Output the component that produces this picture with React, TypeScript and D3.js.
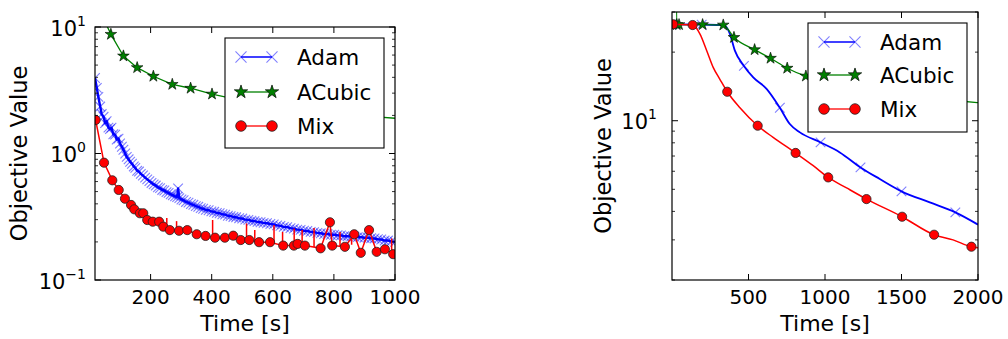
import React, { useRef, useEffect } from 'react';
import * as d3 from 'd3';

type Pt = [number, number];

// ---- left panel (time in s, objective value) ----
const adamLeft: Pt[] = [
  [18, 3.95], [24, 3.3], [29, 2.8], [35, 2.35], [40, 2.05], [46, 1.95], [51, 1.74], [56, 1.8], [62, 1.6],
  [67, 1.56], [72, 1.6], [78, 1.42], [84, 1.41], [89, 1.29], [95, 1.31], [100, 1.2], [106, 1.13], [111, 1.07],
  [117, 1.0], [122, 0.94], [128, 0.9], [133, 0.86], [139, 0.83], [145, 0.79], [150, 0.77], [156, 0.73],
  [162, 0.72], [168, 0.69], [175, 0.67], [182, 0.645], [189, 0.625], [196, 0.605], [203, 0.585], [210, 0.57],
  [217, 0.558], [224, 0.54], [231, 0.532], [238, 0.515], [245, 0.51], [252, 0.495], [259, 0.488], [266, 0.476],
  [273, 0.468], [280, 0.458], [287, 0.452], [290, 0.53], [294, 0.444], [301, 0.433], [308, 0.427], [316, 0.414],
  [324, 0.409], [332, 0.398], [340, 0.393], [348, 0.384], [356, 0.379], [364, 0.37], [372, 0.366], [381, 0.358],
  [390, 0.356], [399, 0.349], [408, 0.346], [417, 0.339], [426, 0.337], [435, 0.331], [444, 0.329], [453, 0.322],
  [462, 0.32], [471, 0.315], [480, 0.313], [490, 0.308], [500, 0.306], [510, 0.3], [520, 0.299], [530, 0.294],
  [540, 0.292], [550, 0.288], [560, 0.286], [570, 0.283], [581, 0.281], [592, 0.277], [603, 0.275], [614, 0.27],
  [625, 0.268], [636, 0.263], [647, 0.262], [658, 0.257], [669, 0.255], [680, 0.25], [691, 0.249], [702, 0.245],
  [713, 0.244], [724, 0.24], [735, 0.239], [746, 0.236], [757, 0.234], [768, 0.231], [779, 0.231], [790, 0.228],
  [801, 0.228], [812, 0.226], [823, 0.225], [834, 0.222], [845, 0.222], [856, 0.22], [867, 0.22], [878, 0.218],
  [889, 0.218], [900, 0.216], [911, 0.216], [922, 0.214], [933, 0.213], [944, 0.21], [955, 0.209], [966, 0.205],
  [977, 0.205], [988, 0.202], [1000, 0.2],
];

const acubicLeft: Pt[] = [
  [40, 12.5], [70, 8.75], [111, 5.9], [156, 4.77], [209, 4.08], [271, 3.52], [331, 3.28], [401, 2.95],
  [470, 2.72], [545, 2.52], [620, 2.36], [700, 2.22], [780, 2.11], [860, 2.02], [940, 1.95], [1000, 1.9],
];

const mixLeft: Pt[] = [
  [20, 1.84], [47.5, 0.846], [74.6, 0.614], [95.6, 0.515], [116, 0.439], [136, 0.392], [146.6, 0.362],
  [165, 0.337], [176, 0.337], [189, 0.298], [207, 0.289], [228, 0.289], [241.5, 0.264], [263, 0.248],
  [293, 0.245], [320, 0.248], [351, 0.23], [380, 0.223], [411, 0.216], [443, 0.216], [470.5, 0.224],
  [495, 0.207], [523, 0.207], [555, 0.199], [591, 0.199], [634, 0.187], [669, 0.187], [681, 0.193],
  [705, 0.187], [756.5, 0.178], [787, 0.286], [794.5, 0.187], [836, 0.183], [866.5, 0.23], [888, 0.164],
  [915, 0.248], [940, 0.167], [967, 0.175], [994, 0.16],
];

// thin vertical spikes in the Mix curve: [time, low, high]
const mixLeftSpikes: [number, number, number][] = [
  [253, 0.255, 0.309], [285, 0.246, 0.292], [403, 0.219, 0.298], [514, 0.207, 0.28], [541, 0.203, 0.248],
  [604, 0.195, 0.272], [632, 0.188, 0.24], [670, 0.187, 0.255], [696, 0.19, 0.248], [735, 0.182, 0.258],
  [820, 0.185, 0.24], [858, 0.19, 0.235], [989, 0.162, 0.213],
];

// ---- right panel ----
const adamRight: Pt[] = [
  [0, 26.5], [194, 26.4], [340, 26.3], [379, 24.0], [411, 20.3], [470, 17.4], [531, 15.5], [618, 13.8],
  [705, 11.4], [770, 9.67], [836, 8.89], [971, 8.03], [1097, 7.26], [1232, 6.24], [1358, 5.55], [1500, 4.9],
  [1685, 4.38], [1852, 3.96], [2000, 3.5],
];
const adamRightMarkTimes = [0, 194, 470, 705, 971, 1232, 1500, 1852];

const acubicRight: Pt[] = [
  [26, 60], [31, 26.4], [46, 26.4], [200, 26.4], [335, 26.3], [405, 23.2], [540, 20.5], [644, 18.8],
  [753, 17.0], [875, 15.7], [990, 15.0], [1110, 14.2], [1230, 13.6], [1350, 13.2], [1470, 12.9],
  [1590, 12.7], [1710, 12.5], [1830, 12.3], [2000, 12.0],
];

const mixRight: Pt[] = [
  [8.5, 26.5], [135, 26.3], [183, 24.0], [227, 20.3], [270, 17.1], [313, 15.2], [361, 13.4], [444, 11.4],
  [560, 9.51], [661, 8.45], [808, 7.22], [923, 6.35], [1021, 5.64], [1141, 5.07], [1271, 4.53],
  [1504, 3.79], [1713, 3.16], [1837, 3.0], [1957, 2.8], [2000, 2.77],
];
const mixRightMarkTimes = [8.5, 135, 361, 560, 808, 1021, 1271, 1504, 1713, 1957];

const seriesNames = ['Adam', 'ACubic', 'Mix'];
const leftXTicks = [200, 400, 600, 800, 1000];
const rightXTicks = [500, 1000, 1500, 2000];
const leftYTicks = [0.1, 1, 10];
const rightYTicks = [10];

const FONT = '"DejaVu Sans", Verdana, sans-serif';
const BLUE = '#0000ff';
const GREEN = '#008000';
const RED = '#ff0000';

type Kind = 'adam' | 'acubic' | 'mix';
interface Series { kind: Kind; line: Pt[]; marks: Pt[]; width: number; spikes?: [number, number, number][] }

interface Panel {
  id: string;
  left: number; right: number; top: number; bottom: number;
  xDomain: [number, number];
  yDomain: [number, number];
  xTicks: number[];
  yTicks: number[];
  series: Series[];
  smooth: boolean;
  legend: { x: number; y: number; w: number; h: number; rows: number[] };
  yLabelX: number;
  yTickRight: number;
}

const panels: Panel[] = [
  {
    id: 'p1', left: 95, right: 395, top: 27, bottom: 280,
    xDomain: [18, 1000], yDomain: [0.1, 10],
    xTicks: leftXTicks, yTicks: leftYTicks,
    series: [
      { kind: 'adam', line: adamLeft, marks: adamLeft, width: 2.4 },
      { kind: 'acubic', line: acubicLeft, marks: acubicLeft.slice(1, -1), width: 1.3 },
      { kind: 'mix', line: mixLeft, marks: mixLeft, width: 1.5, spikes: mixLeftSpikes },
    ],
    smooth: false,
    legend: { x: 225, y: 38, w: 159, h: 110, rows: [57, 92, 126] },
    yLabelX: 27,
    yTickRight: 86,
  },
  {
    id: 'p2', left: 672, right: 978, top: 12, bottom: 280,
    xDomain: [0, 2000], yDomain: [2, 30],
    xTicks: rightXTicks, yTicks: rightYTicks,
    series: [
      { kind: 'adam', line: adamRight, marks: adamRight.filter(d => adamRightMarkTimes.includes(d[0])), width: 1.8 },
      { kind: 'acubic', line: acubicRight, marks: acubicRight.slice(1, -1), width: 1.3 },
      { kind: 'mix', line: mixRight, marks: mixRight.filter(d => mixRightMarkTimes.includes(d[0])), width: 1.5 },
    ],
    smooth: true,
    legend: { x: 808, y: 23, w: 159, h: 109, rows: [42, 75, 109] },
    yLabelX: 611,
    yTickRight: 657,
  },
];

const starPath = d3.symbol().type(d3.symbolStar).size(42)() as string;

function drawMarker(g: d3.Selection<SVGGElement, unknown, null, undefined>, kind: Kind, x: number, y: number, big = false) {
  const s = big ? 1.15 : 1;
  if (kind === 'adam') {
    const h = 4.8 * s;
    g.append('path')
      .attr('d', `M${x - h},${y - h}L${x + h},${y + h}M${x - h},${y + h}L${x + h},${y - h}`)
      .attr('stroke', BLUE).attr('stroke-opacity', 0.5).attr('stroke-width', 1.1).attr('fill', 'none');
  } else if (kind === 'acubic') {
    g.append('path').attr('d', starPath)
      .attr('transform', `translate(${x},${y}) scale(${s})`)
      .attr('fill', GREEN).attr('stroke', '#000').attr('stroke-width', 0.6);
  } else {
    g.append('circle').attr('cx', x).attr('cy', y).attr('r', 4.6 * s)
      .attr('fill', RED).attr('stroke', '#222').attr('stroke-width', 0.8);
  }
}

const colorOf = (k: Kind) => (k === 'adam' ? BLUE : k === 'acubic' ? GREEN : RED);

const App: React.FC = () => {
  const svgRef = useRef<SVGSVGElement | null>(null);

  useEffect(() => {
    const svg = d3.select(svgRef.current);
    svg.selectAll('*').remove();
    const defs = svg.append('defs');

    panels.forEach(p => {
      const x = d3.scaleLinear().domain(p.xDomain).range([p.left, p.right]);
      const y = d3.scaleLog().domain(p.yDomain).range([p.bottom, p.top]);

      defs.append('clipPath').attr('id', `clip-${p.id}`)
        .append('rect').attr('x', p.left).attr('y', p.top)
        .attr('width', p.right - p.left).attr('height', p.bottom - p.top);

      const plot = svg.append('g').attr('clip-path', `url(#clip-${p.id})`);
      const line = d3.line<Pt>().x(d => x(d[0])).y(d => y(d[1]))
        .curve(p.smooth ? d3.curveMonotoneX : d3.curveLinear);

      p.series.forEach(s => {
        plot.append('path').attr('d', line(s.line) as string)
          .attr('fill', 'none').attr('stroke', colorOf(s.kind))
          .attr('stroke-width', s.width).attr('stroke-linejoin', 'round');
        (s.spikes || []).forEach(([t, lo, hi]) => {
          plot.append('line').attr('x1', x(t)).attr('x2', x(t)).attr('y1', y(lo)).attr('y2', y(hi))
            .attr('stroke', colorOf(s.kind)).attr('stroke-width', s.width);
        });
        const mg = plot.append('g');
        s.marks.forEach(d => drawMarker(mg, s.kind, x(d[0]), y(d[1])));
      });

      // frame
      const ax = svg.append('g');
      ax.append('rect').attr('x', p.left).attr('y', p.top)
        .attr('width', p.right - p.left).attr('height', p.bottom - p.top)
        .attr('fill', 'none').attr('stroke', '#000').attr('stroke-width', 1.2);

      // x ticks (inward, top and bottom)
      p.xTicks.forEach(t => {
        const px = x(t);
        ax.append('line').attr('x1', px).attr('x2', px).attr('y1', p.bottom).attr('y2', p.bottom - 6)
          .attr('stroke', '#000').attr('stroke-width', 1);
        ax.append('line').attr('x1', px).attr('x2', px).attr('y1', p.top).attr('y2', p.top + 6)
          .attr('stroke', '#000').attr('stroke-width', 1);
        ax.append('text').attr('x', px).attr('y', 304).attr('text-anchor', 'middle')
          .attr('font-family', FONT).attr('font-size', 20).attr('fill', '#000').text(String(t));
      });

      // y minor ticks
      const [lo, hi] = p.yDomain;
      for (let e = Math.floor(Math.log10(lo)); e <= Math.ceil(Math.log10(hi)); e++) {
        for (let k = 2; k <= 9; k++) {
          const v = k * Math.pow(10, e);
          if (v < lo || v > hi) continue;
          const py = y(v);
          ax.append('line').attr('x1', p.left).attr('x2', p.left + 3).attr('y1', py).attr('y2', py)
            .attr('stroke', '#000').attr('stroke-width', 0.8);
          ax.append('line').attr('x1', p.right).attr('x2', p.right - 3).attr('y1', py).attr('y2', py)
            .attr('stroke', '#000').attr('stroke-width', 0.8);
        }
      }

      // y major ticks with 10^n labels
      p.yTicks.forEach(t => {
        const py = y(t);
        ax.append('line').attr('x1', p.left).attr('x2', p.left + 6).attr('y1', py).attr('y2', py)
          .attr('stroke', '#000').attr('stroke-width', 1);
        ax.append('line').attr('x1', p.right).attr('x2', p.right - 6).attr('y1', py).attr('y2', py)
          .attr('stroke', '#000').attr('stroke-width', 1);
        const exp = Math.round(Math.log10(t));
        const txt = ax.append('text').attr('x', p.yTickRight).attr('y', py + 8.5)
          .attr('text-anchor', 'end').attr('font-family', FONT).attr('fill', '#000');
        txt.append('tspan').attr('font-size', 21).text('10');
        txt.append('tspan').attr('font-size', 14).attr('dy', -10).text(exp < 0 ? `\u2212${-exp}` : String(exp));
      });

      // axis labels
      svg.append('text').attr('x', (p.left + p.right) / 2).attr('y', 331).attr('text-anchor', 'middle')
        .attr('font-family', FONT).attr('font-size', 22).attr('fill', '#000').text('Time [s]');
      svg.append('text')
        .attr('transform', `translate(${p.yLabelX},${(p.top + p.bottom) / 2}) rotate(-90)`)
        .attr('text-anchor', 'middle').attr('font-family', FONT).attr('font-size', 22.5).attr('fill', '#000')
        .text('Objective Value');

      // legend
      const lg = svg.append('g');
      lg.append('rect').attr('x', p.legend.x).attr('y', p.legend.y).attr('width', p.legend.w).attr('height', p.legend.h)
        .attr('fill', '#fff').attr('stroke', '#000').attr('stroke-width', 1.1);
      p.series.forEach((s, i) => {
        const ry = p.legend.rows[i];
        const x1 = p.legend.x + 16;
        const x2 = p.legend.x + 47;
        lg.append('line').attr('x1', x1).attr('x2', x2).attr('y1', ry).attr('y2', ry)
          .attr('stroke', colorOf(s.kind)).attr('stroke-width', s.kind === 'adam' ? 1.5 : 1.3);
        drawMarker(lg, s.kind, x1, ry, true);
        drawMarker(lg, s.kind, x2, ry, true);
        lg.append('text').attr('x', p.legend.x + 72).attr('y', ry + 8)
          .attr('font-family', FONT).attr('font-size', 21.5).attr('fill', '#000').text(seriesNames[i]);
      });
    });
  }, []);

  return (
    <svg
      ref={svgRef}
      width={1008}
      height={339}
      style={{ position: 'absolute', left: 0, top: 0, background: '#fff' }}
    />
  );
};

export default App;
